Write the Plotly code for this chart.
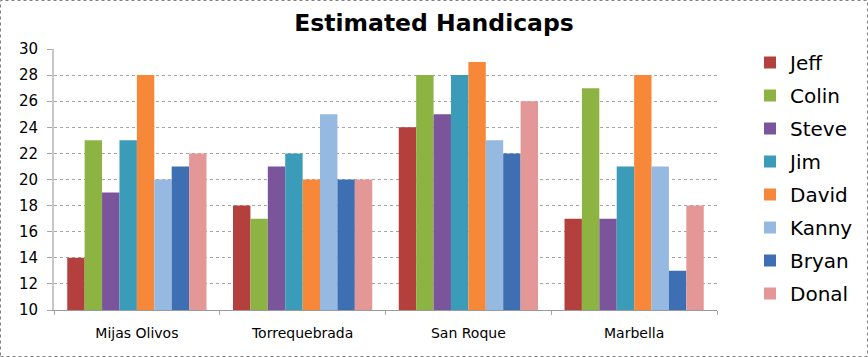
import plotly.graph_objects as go

categories = ["Mijas Olivos", "Torrequebrada", "San Roque", "Marbella"]
players = ["Jeff", "Colin", "Steve", "Jim", "David", "Kanny", "Bryan", "Donal"]
jeff = [14, 18, 24, 17]
colin = [23, 17, 28, 27]
steve = [19, 21, 25, 17]
jim = [23, 22, 28, 21]
david = [28, 20, 29, 28]
kanny = [20, 25, 23, 21]
bryan = [21, 20, 22, 13]
donal = [22, 20, 26, 18]
series = [jeff, colin, steve, jim, david, kanny, bryan, donal]
colors = ["#B3403C", "#8DB443", "#7A559B", "#3A9CB8", "#F7883A", "#96B9E2", "#3E6FB3", "#E39796"]
y_ticks = list(range(10, 31, 2))

W, H = 868, 357
L, R, T, B = 54, 151, 49, 47
pw, ph = W - L - R, H - T - B

fig = go.Figure()
for i, (name, vals) in enumerate(zip(players, series)):
    fig.add_trace(go.Bar(
        x=categories, y=vals, name=name, legendgroup=name,
        marker=dict(color=colors[i], line=dict(width=0)),
    ))

fig.update_layout(
    width=W, height=H, autosize=False,
    margin=dict(l=L, r=R, t=T, b=B, pad=0, autoexpand=False),
    paper_bgcolor="white", plot_bgcolor="white",
    barmode="group", bargap=0.16, bargroupgap=0,
    font=dict(family="DejaVu Sans", color="black", size=14),
    title=dict(text="<b>Estimated Handicaps</b>", x=0.5, xanchor="center",
               y=1 - 23 / H, yanchor="middle",
               font=dict(family="DejaVu Sans", size=23.5, color="black")),
    legend=dict(x=(750 - L) / pw, xanchor="left", y=1 - (43 - T) / ph, yanchor="top",
                font=dict(size=20, family="DejaVu Sans"), tracegroupgap=4, maxheight=1,
                itemwidth=30, bgcolor="rgba(0,0,0,0)"),
    showlegend=True,
)
fig.update_yaxes(range=[10, 30], tickvals=y_ticks, showgrid=True, gridcolor="#A6A6A6",
                 griddash="dot", gridwidth=1, showline=True, linecolor="#C8C8C8", linewidth=2,
                 ticks="outside", ticklen=5, tickcolor="#A6A6A6", tickfont=dict(size=15),
                 ticklabelstandoff=6, automargin=False, zeroline=False, fixedrange=True)
fig.update_xaxes(showline=True, linecolor="#9A9A9A", linewidth=1, ticks="outside",
                 tickson="boundaries", ticklen=4, tickcolor="#A6A6A6",
                 tickfont=dict(size=14), ticklabelstandoff=10, automargin=False, showgrid=False)

# dotted border around the whole chart
fig.add_shape(type="rect", xref="paper", yref="paper",
              x0=(0.5 - L) / pw, x1=(W - 0.5 - L) / pw,
              y0=-(B - 0.5) / ph, y1=1 + (T - 0.5) / ph,
              line=dict(color="#808080", width=1, dash="dot"), layer="above")

fig.write_html("out.html", config={"responsive": False, "displayModeBar": False},
               post_script="document.body.style.margin='0';")
